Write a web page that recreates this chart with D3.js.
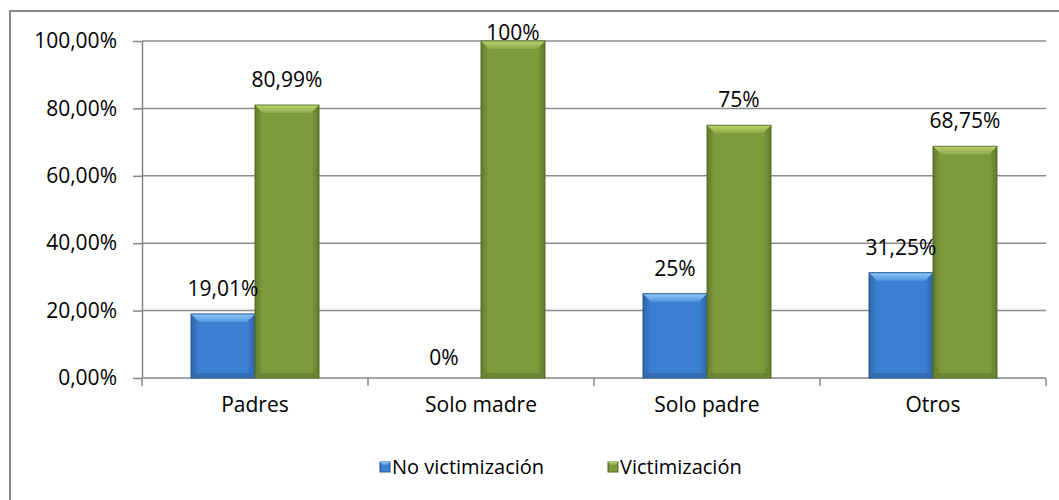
<!DOCTYPE html>
<html lang="es">
<head>
    <meta charset="UTF-8">
    <title>Victimización</title>
    <script src="https://d3js.org/d3.v7.min.js"></script>
    <style>
        body { margin: 0; background: #fff; }
        text { font-family: "Open Sans", sans-serif; font-size: 21px; fill: #000; }
        .grid line { stroke: #8c8c8c; stroke-width: 1.5; }
        .axis path, .axis line { stroke: #868686; stroke-width: 1.5; }
    </style>
</head>
<body>
<svg width="1059" height="500"></svg>

<script>
    const categories = ["Padres", "Solo madre", "Solo padre", "Otros"];
    const series = ["No victimización", "Victimización"];
    const noVictimizacion = [19.01, 0, 25, 31.25];
    const victimizacion = [80.99, 100, 75, 68.75];
    const labelsNo = ["19,01%", "0%", "25%", "31,25%"];
    const labelsVic = ["80,99%", "100%", "75%", "68,75%"];
    const yTicks = [0, 20, 40, 60, 80, 100];

    const svg = d3.select("svg");
    const plotL = 142, plotR = 1046, plotT = 41, plotB = 378;

    // outer frame (runs off the right and bottom edges like the source)
    svg.append("rect")
        .attr("x", 10).attr("y", 11)
        .attr("width", 1080).attr("height", 520)
        .attr("fill", "none").attr("stroke", "#898989").attr("stroke-width", 2);

    const x = d3.scaleBand().domain(categories).range([plotL, plotR]);
    const xs = d3.scaleBand().domain(series).range([0, 128]);
    const y = d3.scaleLinear().domain([0, 100]).range([plotB, plotT]);

    const defs = svg.append("defs");
    function grad(id, edge, mid) {
        const g = defs.append("linearGradient").attr("id", id)
            .attr("x1", "0").attr("x2", "1").attr("y1", "0").attr("y2", "0");
        g.append("stop").attr("offset", "0").attr("stop-color", edge);
        g.append("stop").attr("offset", "0.12").attr("stop-color", mid);
        g.append("stop").attr("offset", "0.88").attr("stop-color", mid);
        g.append("stop").attr("offset", "1").attr("stop-color", edge);
    }
    function vgrad(id, c1, c2) {
        const g = defs.append("linearGradient").attr("id", id)
            .attr("x1", "0").attr("x2", "0").attr("y1", "0").attr("y2", "1");
        g.append("stop").attr("offset", "0").attr("stop-color", c1);
        g.append("stop").attr("offset", "1").attr("stop-color", c2);
    }
    grad("gBlue", "#2f65a8", "#3b7fd1");
    grad("gGreen", "#617a2c", "#7d9b3c");
    vgrad("bBlue", "#8cc4f7", "#5296e0");
    vgrad("bGreen", "#b9d06c", "#8fab48");
    const colors = {
        "No victimización": { fill: "url(#gBlue)", stroke: "#2a5892", bevel: "url(#bBlue)" },
        "Victimización": { fill: "url(#gGreen)", stroke: "#566d26", bevel: "url(#bGreen)" }
    };

    // gridlines
    svg.append("g").attr("class", "grid")
        .selectAll("line").data(yTicks.filter(d => d > 0)).enter()
        .append("line")
        .attr("x1", plotL).attr("x2", plotR)
        .attr("y1", d => y(d)).attr("y2", d => y(d));

    // y axis
    const yAxis = d3.axisLeft(y).tickValues(yTicks).tickSize(9).tickSizeOuter(0)
        .tickFormat(d => d3.format(".2f")(d).replace(".", ",") + "%");
    const gy = svg.append("g").attr("class", "axis").attr("transform", `translate(${plotL},0)`).call(yAxis);
    gy.selectAll("text").attr("x", -25).style("font-size", "21px").style("font-family", "Open Sans");

    // x axis: ticks at category boundaries
    const gx = svg.append("g").attr("class", "axis");
    gx.append("line").attr("x1", plotL).attr("x2", plotR).attr("y1", plotB).attr("y2", plotB);
    gx.selectAll(".tk").data(categories.concat([null])).enter().append("line")
        .attr("x1", (d, i) => plotL + i * x.bandwidth())
        .attr("x2", (d, i) => plotL + i * x.bandwidth())
        .attr("y1", plotB).attr("y2", plotB + 8);
    gx.selectAll(".lab").data(categories).enter().append("text")
        .attr("x", d => x(d) + x.bandwidth() / 2)
        .attr("y", plotB + 34)
        .attr("text-anchor", "middle")
        .text(d => d);

    const rows = [];
    categories.forEach((c, i) => {
        rows.push({ cat: c, s: series[0], v: noVictimizacion[i], lab: labelsNo[i] });
        rows.push({ cat: c, s: series[1], v: victimizacion[i], lab: labelsVic[i] });
    });
    const bx = d => x(d.cat) + x.bandwidth() / 2 - 64 + xs(d.s);
    const bw = xs.bandwidth();

    const bars = svg.append("g").selectAll("g").data(rows.filter(d => d.v > 0)).enter().append("g");
    bars.append("rect")
        .attr("x", bx).attr("y", d => y(d.v))
        .attr("width", bw).attr("height", d => plotB - y(d.v))
        .attr("fill", d => colors[d.s].fill)
        .attr("stroke", d => colors[d.s].stroke).attr("stroke-width", 1);
    // top bevel
    bars.append("path")
        .attr("d", d => {
            const x0 = bx(d), y0 = y(d.v), b = 8;
            return `M${x0 + 0.5},${y0 + 0.5}L${x0 + bw - 0.5},${y0 + 0.5}L${x0 + bw - b},${y0 + b}L${x0 + b},${y0 + b}Z`;
        })
        .attr("fill", d => colors[d.s].bevel);
    // bottom bevel shade
    bars.append("rect")
        .attr("x", d => bx(d) + 4).attr("y", plotB - 5)
        .attr("width", bw - 8).attr("height", 4)
        .attr("fill", "#000").attr("opacity", 0.12);

    // value labels
    svg.append("g").selectAll("text").data(rows).enter().append("text")
        .attr("x", d => bx(d) + bw / 2 - (d.v === 0 ? 5 : 0))
        .attr("y", d => d.v === 0 ? plotB - 13 : Math.max(y(d.v) - 18, plotT - 1))
        .attr("text-anchor", "middle")
        .text(d => d.lab);

    // legend
    const legX = [380, 608];
    const leg = svg.append("g").selectAll("g").data(series).enter().append("g")
        .attr("transform", (d, i) => `translate(${legX[i]},462)`);
    leg.append("rect").attr("width", 10).attr("height", 10)
        .attr("fill", d => colors[d].fill).attr("stroke", d => colors[d].stroke);
    leg.append("path").attr("d", "M0,0L10,0L7,3L3,3Z").attr("fill", d => colors[d].bevel);
    leg.append("text").attr("x", 12).attr("y", 12).style("font-size", "20px").text(d => d);
</script>
</body>
</html>
